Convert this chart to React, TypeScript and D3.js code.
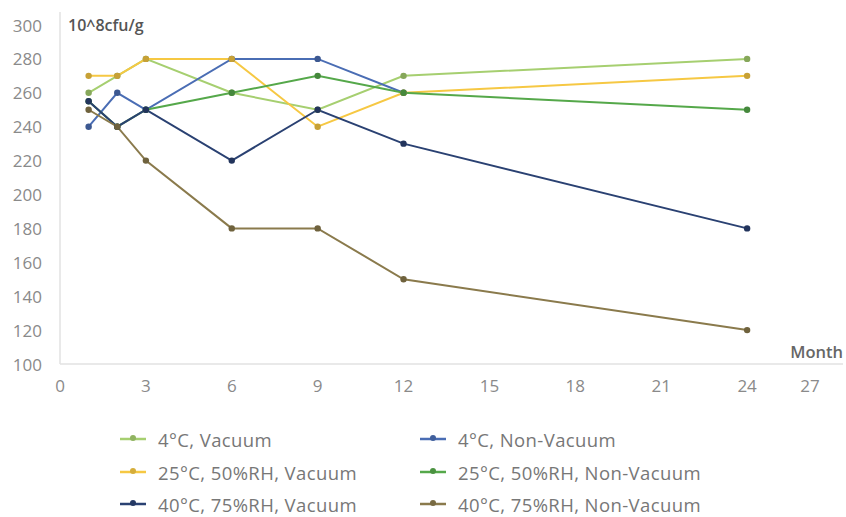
import React from "react";
import * as d3 from "d3";

const months = [1, 2, 3, 6, 9, 12, 24];
const xTicks = [0, 3, 6, 9, 12, 15, 18, 21, 24, 27];
const yTicks = [100, 120, 140, 160, 180, 200, 220, 240, 260, 280, 300];

const seriesNames = [
  "4°C, Vacuum",
  "4°C, Non-Vacuum",
  "25°C, 50%RH, Vacuum",
  "25°C, 50%RH, Non-Vacuum",
  "40°C, 75%RH, Vacuum",
  "40°C, 75%RH, Non-Vacuum",
];
const vac4 = [260, 270, 280, 260, 250, 270, 280];
const nonVac4 = [240, 260, 250, 280, 280, 260, null];
const vac25 = [270, 270, 280, 280, 240, 260, 270];
const nonVac25 = [255, 240, 250, 260, 270, 260, 250];
const vac40 = [255, 240, 250, 220, 250, 230, 180];
const nonVac40 = [250, 240, 220, 180, 180, 150, 120];
const seriesValues = [vac4, nonVac4, vac25, nonVac25, vac40, nonVac40];
const seriesColors = ["#a6cf70", "#4a6db4", "#f6c843", "#55a84a", "#2a4172", "#8a7a4c"];

const W = 846;
const H = 517;

export default function App() {
  const x = d3.scaleLinear().domain([0, 27]).range([60, 833]);
  const y = d3.scaleLinear().domain([100, 300]).range([364, 25]);
  const line = d3
    .line<[number, number | null]>()
    .defined((d) => d[1] != null)
    .x((d) => x(d[0]))
    .y((d) => y(d[1] as number));

  const font = "'Open Sans', sans-serif";
  const legendCols = [120, 420];
  const legendRows = [439, 472, 504];

  return (
    <svg
      width={W}
      height={H}
      style={{ position: "absolute", left: 0, top: 0, background: "#fff" }}
      fontFamily={font}
    >
      {/* axes */}
      <line x1={x(0)} x2={x(0)} y1={12} y2={y(100)} stroke="#e2e2e2" strokeWidth={1.5} />
      <line x1={x(0)} x2={843} y1={y(100)} y2={y(100)} stroke="#e2e2e2" strokeWidth={1.5} />

      {yTicks.map((t) => (
        <text
          key={"y" + t}
          x={42}
          y={y(t)}
          textAnchor="end"
          dominantBaseline="central"
          fontSize={17}
          fill="#8a8a8a"
        >
          {t}
        </text>
      ))}
      {xTicks.map((t, i) => (
        <text
          key={"x" + t}
          x={i === xTicks.length - 1 ? Math.min(x(t), 810) : x(t)}
          y={385}
          textAnchor="middle"
          dominantBaseline="central"
          fontSize={17}
          fill="#8a8a8a"
        >
          {t}
        </text>
      ))}
      <text x={68} y={25} dominantBaseline="central" fontSize={16} fontWeight={600} fill="#555">
        10^8cfu/g
      </text>
      <text x={843} y={351} textAnchor="end" dominantBaseline="central" fontSize={16.5} fontWeight={600} fill="#666">
        Month
      </text>

      {/* series */}
      {seriesValues.map((vals, si) => {
        const pts = months.map((m, i) => [m, vals[i]] as [number, number | null]);
        return (
          <g key={"s" + si}>
            <path d={line(pts) || ""} fill="none" stroke={seriesColors[si]} strokeWidth={2} />
          </g>
        );
      })}
      {seriesValues.map((vals, si) => (
        <g key={"p" + si}>
          {months.map((m, i) =>
            vals[i] == null ? null : (
              <circle
                key={i}
                cx={x(m)}
                cy={y(vals[i] as number)}
                r={3.2}
                fill={d3.color(seriesColors[si])!.darker(0.6).toString()}
              />
            )
          )}
        </g>
      ))}

      {/* legend */}
      {seriesNames.map((name, i) => {
        const col = i % 2;
        const row = Math.floor(i / 2);
        const lx = legendCols[col];
        const ly = legendRows[row];
        return (
          <g key={"l" + i}>
            <line x1={lx} x2={lx + 26} y1={ly} y2={ly} stroke={seriesColors[i]} strokeWidth={2.5} />
            <circle cx={lx + 13} cy={ly - 1} r={3} fill={d3.color(seriesColors[i])!.darker(0.4).toString()} />
            <text
              x={lx + 38}
              y={ly}
              dominantBaseline="central"
              fontSize={18.5}
              letterSpacing={0.4}
              fill="#777"
            >
              {name}
            </text>
          </g>
        );
      })}
    </svg>
  );
}
